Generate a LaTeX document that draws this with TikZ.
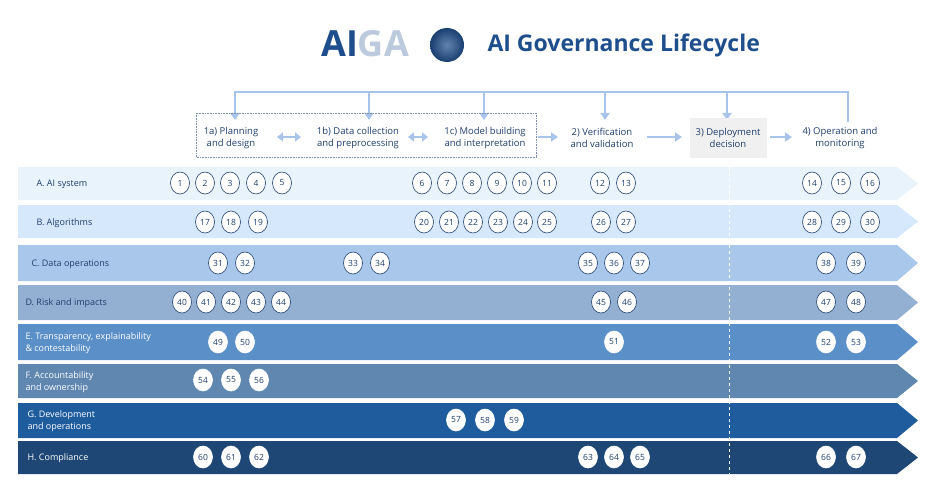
\documentclass[tikz,border=0pt]{standalone}
\usepackage{fontspec}
\setmainfont{Open Sans}
\usetikzlibrary{arrows.meta,shapes.geometric}
\definecolor{navy}{HTML}{1F3F6E}
\definecolor{flow}{HTML}{A9C4EA}
\definecolor{cA}{HTML}{E8F3FC}
\definecolor{cB}{HTML}{D6E8FB}
\definecolor{cC}{HTML}{A9C7EA}
\definecolor{cD}{HTML}{93AFD2}
\definecolor{cE}{HTML}{5B8FC8}
\definecolor{cF}{HTML}{5F87B0}
\definecolor{cG}{HTML}{1F5C9E}
\definecolor{cH}{HTML}{1E4775}
\definecolor{title}{HTML}{1F4E8C}
\tikzset{
  num/.style={ellipse,draw=navy,line width=0.6pt,fill=white,inner sep=0pt,minimum width=19pt,minimum height=22pt,font=\fontsize{8.5}{9}\selectfont,text=navy},
  phase/.style={align=center,font=\fontsize{9.5}{12.5}\selectfont,text=navy},
  rowlab/.style={anchor=west,align=left,font=\fontsize{9}{11.5}\selectfont},
  fl/.style={draw=flow,line width=2.4pt},
  fla/.style={fl,-{Triangle[length=7pt,width=9pt]}},
  fld/.style={fl,{Triangle[length=6pt,width=9pt]}-{Triangle[length=6pt,width=9pt]}}
}
\begin{document}
\begin{tikzpicture}[x=1pt,y=-1pt]
\useasboundingbox (0,0) rectangle (936,492);
% title
\node[anchor=west,font=\fontsize{36}{38}\selectfont\bfseries,text=title,inner sep=0] (logo) at (321,44) {AI\textcolor{title!30!white}{GA}};
\shade[inner color=title!70!white,outer color=title!80!black] (447,45) circle (17);
\node[anchor=west,font=\fontsize{23}{26}\selectfont\bfseries,text=title] (ttl) at (484,45) {AI Governance Lifecycle};
% rows
\foreach \c/\y/\h in {cA/167/33,cB/205/33,cC/245/36,cD/285/35,cE/324/36,cF/364/34,cG/403/35,cH/441/33}{
  \fill[\c] (18,\y) -- (897,\y) -- (918,\y+\h/2) -- (897,\y+\h) -- (18,\y+\h) -- cycle;
}
\draw[white,dashed,line width=0.8pt] (729,167) -- (729,474);
% feedback
\draw[fl] (235,92) -- (848,92) -- (848,122);
\foreach \x in {235,369,484,605,727}{\draw[fla] (\x,91) -- (\x,120);}
% phases
\fill[gray!12] (690,118) rectangle (767,158);
\draw[navy!60,densely dotted,line width=0.6pt] (196,113) rectangle (536,157);
\node[phase] (p1a) at (231,138) {1a) Planning\\and design};
\node[phase] (p1b) at (358,138) {1b) Data collection\\and preprocessing};
\node[phase] (p1c) at (485,138) {1c) Model building\\and interpretation};
\node[phase] (p2) at (602,138) {2) Verification\\and validation};
\node[phase] (p3) at (728,138) {3) Deployment\\decision};
\node[phase] (p4) at (840,138) {4) Operation and\\monitoring};
\draw[fld] (277,137) -- (301,137);
\draw[fld] (408,137) -- (428,137);
\draw[fla] (538,137) -- (558,137);
\draw[fla] (647,137) -- (682,137);
\draw[fla] (770,137) -- (792,137);
% row labels
\node[rowlab,text=navy] (rA) at (33,184) {A. AI system};
\node[rowlab,text=navy] (rB) at (33,223) {B. Algorithms};
\node[rowlab,text=navy] (rC) at (28,264) {C. Data operations};
\node[rowlab,text=navy] (rD) at (22,303) {D. Risk and impacts};
\node[rowlab,text=white] (rE) at (22,343) {E. Transparency, explainability\\\& contestability};
\node[rowlab,text=white] (rF) at (22,382) {F. Accountability\\and ownership};
\node[rowlab,text=white] (rG) at (24,421) {G. Development\\and operations};
\node[rowlab,text=white] (rH) at (24,458) {H. Compliance};
% numbers
\foreach \n/\x in {1/180,2/205,3/230,4/256,5/282,6/422,7/447,8/472,9/497,10/522,11/547,12/600,13/626,14/812,15/841,16/870}{\node[num] (n\n) at (\x,183) {\n};}
\foreach \n/\x in {17/205,18/231,19/258,20/424,21/449,22/473,23/498,24/523,25/547,26/601,27/626,28/812,29/841,30/870}{\node[num] (n\n) at (\x,222) {\n};}
\foreach \n/\x in {31/218,32/245,33/353,34/380,35/588,36/614,37/640,38/826,39/856}{\node[num] (n\n) at (\x,263) {\n};}
\foreach \n/\x in {40/182,41/206,42/231,43/256,44/281,45/601,46/627,47/826,48/856}{\node[num] (n\n) at (\x,302) {\n};}
\foreach \n/\x in {49/218,50/245,51/614,52/826,53/856}{\node[num,draw=white] (n\n) at (\x,342) {\n};}
\foreach \n/\x in {54/203,55/231,56/259}{\node[num,draw=white] (n\n) at (\x,380) {\n};}
\foreach \n/\x in {57/456,58/485,59/514}{\node[num,draw=white] (n\n) at (\x,420) {\n};}
\foreach \n/\x in {60/203,61/231,62/259,63/588,64/614,65/640,66/826,67/856}{\node[num,draw=white] (n\n) at (\x,457) {\n};}
\end{tikzpicture}
\end{document}
